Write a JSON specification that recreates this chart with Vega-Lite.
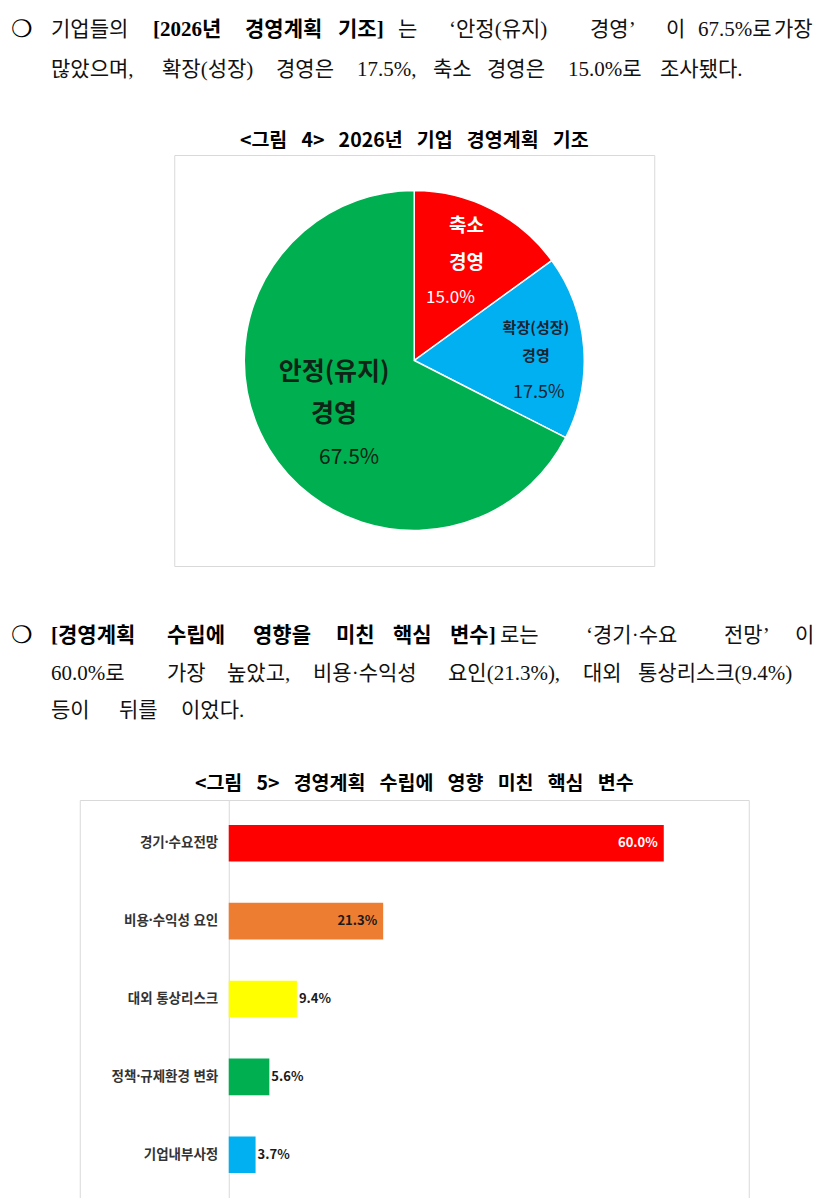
{
  "$schema": "https://vega.github.io/schema/vega-lite/v6.json",
  "padding": 0,
  "background": "white",
  "spacing": 0,
  "center": true,
  "resolve": {"scale": {"color": "independent"}},
  "config": {
    "view": {"stroke": null},
    "font": "Noto Sans CJK KR",
    "title": {"font": "Noto Sans CJK KR", "fontSize": 19.5, "fontWeight": "bold", "color": "#000000", "anchor": "middle"}
  },
  "vconcat": [
    {
      "width": 829,
      "height": 130,
      "data": {"values": [
        {"line": 1, "seg": 0, "kind": "bullet", "text": "❍"},
        {"line": 1, "seg": 1, "kind": "normal", "text": "기업들의"},
        {"line": 1, "seg": 2, "kind": "bold", "text": "[2026년"},
        {"line": 1, "seg": 3, "kind": "bold", "text": "경영계획"},
        {"line": 1, "seg": 4, "kind": "bold", "text": "기조]"},
        {"line": 1, "seg": 5, "kind": "normal", "text": "는"},
        {"line": 1, "seg": 6, "kind": "normal", "text": "‘안정(유지)"},
        {"line": 1, "seg": 7, "kind": "normal", "text": "경영’"},
        {"line": 1, "seg": 8, "kind": "normal", "text": "이"},
        {"line": 1, "seg": 9, "kind": "normal", "text": "67.5%로"},
        {"line": 1, "seg": 10, "kind": "normal", "text": "가장"},
        {"line": 2, "seg": 11, "kind": "normal", "text": "많았으며,"},
        {"line": 2, "seg": 12, "kind": "normal", "text": "확장(성장)"},
        {"line": 2, "seg": 13, "kind": "normal", "text": "경영은"},
        {"line": 2, "seg": 14, "kind": "normal", "text": "17.5%,"},
        {"line": 2, "seg": 15, "kind": "normal", "text": "축소"},
        {"line": 2, "seg": 16, "kind": "normal", "text": "경영은"},
        {"line": 2, "seg": 17, "kind": "normal", "text": "15.0%로"},
        {"line": 2, "seg": 18, "kind": "normal", "text": "조사됐다."}
      ]},
      "encoding": {
        "x": {"field": "seg", "type": "quantitative", "scale": {"domain": [0, 1, 2, 3, 4, 5, 6, 7, 8, 9, 10, 11, 12, 13, 14, 15, 16, 17, 18], "range": [11, 51, 153, 245, 338, 398, 449, 590, 666, 698, 774, 51, 162, 276, 357, 433, 487, 568, 660], "nice": false, "zero": false}, "axis": null},
        "y": {"field": "line", "type": "quantitative", "scale": {"domain": [1, 2], "range": [30, 70], "nice": false, "zero": false}, "axis": null},
        "text": {"field": "text", "type": "nominal"}
      },
      "layer": [
        {"transform": [{"filter": "datum.kind === 'bullet'"}], "mark": {"type": "text", "align": "left", "baseline": "middle", "font": "DejaVu Sans", "fontSize": 24, "color": "#000000"}},
        {"transform": [{"filter": "datum.kind === 'normal'"}], "mark": {"type": "text", "align": "left", "baseline": "middle", "font": "Liberation Serif, Noto Sans CJK KR", "fontSize": 21, "color": "#111111"}},
        {"transform": [{"filter": "datum.kind === 'bold'"}], "mark": {"type": "text", "align": "left", "baseline": "middle", "font": "Liberation Serif, Noto Sans CJK KR", "fontSize": 21, "fontWeight": "bold", "color": "#000000"}}
      ]
    },
    {
      "width": 480,
      "height": 411,
      "view": {"stroke": "#D9D9D9", "strokeWidth": 1},
      "title": {"text": "<그림\u2002 4>\u2002 2026년\u2002 기업\u2002 경영계획\u2002 기조", "offset": 3.5},
      "data": {"values": [
        {"k": "축소 경영", "v": 0.150, "o": 1},
        {"k": "확장(성장) 경영", "v": 0.175, "o": 2},
        {"k": "안정(유지) 경영", "v": 0.675, "o": 3}
      ]},
      "encoding": {
        "theta": {"field": "v", "type": "quantitative", "stack": true},
        "order": {"field": "o", "type": "quantitative"}
      },
      "layer": [
        {
          "mark": {"type": "arc", "outerRadius": 170, "stroke": "#FFFFFF", "strokeWidth": 1.5},
          "encoding": {"color": {"field": "k", "type": "nominal", "scale": {"domain": ["축소 경영", "확장(성장) 경영", "안정(유지) 경영"], "range": ["#FF0000", "#00B0F0", "#00B050"]}, "legend": null}}
        },
        {
          "mark": {"type": "text", "radius": 115, "dy": -32, "fontSize": 19, "fontWeight": "bold", "color": "#FFFFFF", "lineBreak": " ", "lineHeight": 37, "baseline": "middle"},
          "encoding": {"text": {"condition": {"test": "datum.k === '축소 경영'", "field": "k", "type": "nominal"}, "value": ""}}
        },
        {
          "mark": {"type": "text", "radius": 115, "dx": -16, "dy": 40, "fontSize": 17, "color": "#FFFFFF", "baseline": "middle"},
          "encoding": {"text": {"condition": {"test": "datum.k === '축소 경영'", "field": "v", "type": "quantitative", "format": ".1%"}, "value": ""}}
        },
        {
          "mark": {"type": "text", "radius": 122, "dy": -23, "fontSize": 15, "fontWeight": "bold", "color": "#1B2430", "lineBreak": " ", "lineHeight": 28, "baseline": "middle"},
          "encoding": {"text": {"condition": {"test": "datum.k === '확장(성장) 경영'", "field": "k", "type": "nominal"}, "value": ""}}
        },
        {
          "mark": {"type": "text", "radius": 122, "dx": 3, "dy": 42, "fontSize": 18, "color": "#1B2430", "baseline": "middle"},
          "encoding": {"text": {"condition": {"test": "datum.k === '확장(성장) 경영'", "field": "v", "type": "quantitative", "format": ".1%"}, "value": ""}}
        },
        {
          "mark": {"type": "text", "radius": 94, "dy": -38, "fontSize": 25, "fontWeight": "bold", "color": "#0E2416", "lineBreak": " ", "lineHeight": 42, "baseline": "middle"},
          "encoding": {"text": {"condition": {"test": "datum.k === '안정(유지) 경영'", "field": "k", "type": "nominal"}, "value": ""}}
        },
        {
          "mark": {"type": "text", "radius": 94, "dx": 15, "dy": 48, "fontSize": 21, "color": "#0E2416", "baseline": "middle"},
          "encoding": {"text": {"condition": {"test": "datum.k === '안정(유지) 경영'", "field": "v", "type": "quantitative", "format": ".1%"}, "value": ""}}
        }
      ]
    },
    {
      "width": 829,
      "height": 206,
      "data": {"values": [
        {"line": 1, "seg": 0, "kind": "bullet", "text": "❍"},
        {"line": 1, "seg": 1, "kind": "bold", "text": "[경영계획"},
        {"line": 1, "seg": 2, "kind": "bold", "text": "수립에"},
        {"line": 1, "seg": 3, "kind": "bold", "text": "영향을"},
        {"line": 1, "seg": 4, "kind": "bold", "text": "미친"},
        {"line": 1, "seg": 5, "kind": "bold", "text": "핵심"},
        {"line": 1, "seg": 6, "kind": "bold", "text": "변수]"},
        {"line": 1, "seg": 7, "kind": "normal", "text": "로는"},
        {"line": 1, "seg": 8, "kind": "normal", "text": "‘경기·수요"},
        {"line": 1, "seg": 9, "kind": "normal", "text": "전망’"},
        {"line": 1, "seg": 10, "kind": "normal", "text": "이"},
        {"line": 2, "seg": 11, "kind": "normal", "text": "60.0%로"},
        {"line": 2, "seg": 12, "kind": "normal", "text": "가장"},
        {"line": 2, "seg": 13, "kind": "normal", "text": "높았고,"},
        {"line": 2, "seg": 14, "kind": "normal", "text": "비용·수익성"},
        {"line": 2, "seg": 15, "kind": "normal", "text": "요인(21.3%),"},
        {"line": 2, "seg": 16, "kind": "normal", "text": "대외"},
        {"line": 2, "seg": 17, "kind": "normal", "text": "통상리스크(9.4%)"},
        {"line": 3, "seg": 18, "kind": "normal", "text": "등이"},
        {"line": 3, "seg": 19, "kind": "normal", "text": "뒤를"},
        {"line": 3, "seg": 20, "kind": "normal", "text": "이었다."}
      ]},
      "encoding": {
        "x": {"field": "seg", "type": "quantitative", "scale": {"domain": [0, 1, 2, 3, 4, 5, 6, 7, 8, 9, 10, 11, 12, 13, 14, 15, 16, 17, 18, 19, 20], "range": [11, 51, 167, 253, 336, 393, 450, 500, 586, 724, 795, 51, 167, 227, 313, 448, 583, 638, 51, 119, 181], "nice": false, "zero": false}, "axis": null},
        "y": {"field": "line", "type": "quantitative", "scale": {"domain": [1, 3], "range": [69, 144], "nice": false, "zero": false}, "axis": null},
        "text": {"field": "text", "type": "nominal"}
      },
      "layer": [
        {"transform": [{"filter": "datum.kind === 'bullet'"}], "mark": {"type": "text", "align": "left", "baseline": "middle", "font": "DejaVu Sans", "fontSize": 24, "color": "#000000"}},
        {"transform": [{"filter": "datum.kind === 'normal'"}], "mark": {"type": "text", "align": "left", "baseline": "middle", "font": "Liberation Serif, Noto Sans CJK KR", "fontSize": 21, "color": "#111111"}},
        {"transform": [{"filter": "datum.kind === 'bold'"}], "mark": {"type": "text", "align": "left", "baseline": "middle", "font": "Liberation Serif, Noto Sans CJK KR", "fontSize": 21, "fontWeight": "bold", "color": "#000000"}}
      ]
    },
    {
      "width": 669,
      "height": 398,
      "view": {"stroke": "#D9D9D9", "strokeWidth": 1},
      "title": {"text": "<그림\u2002 5>\u2002 경영계획\u2002 수립에\u2002 영향\u2002 미친\u2002 핵심\u2002 변수", "offset": 5.5},
      "data": {"values": [
        {"f": "경기·수요전망", "v": 0.600},
        {"f": "비용·수익성 요인", "v": 0.213},
        {"f": "대외 통상리스크", "v": 0.094},
        {"f": "정책·규제환경 변화", "v": 0.056},
        {"f": "기업내부사정", "v": 0.037}
      ]},
      "encoding": {
        "y": {
          "field": "f", "type": "nominal",
          "scale": {"domain": ["경기·수요전망", "비용·수익성 요인", "대외 통상리스크", "정책·규제환경 변화", "기업내부사정"], "paddingInner": 0.53, "paddingOuter": 0.32},
          "axis": {"title": null, "offset": -149, "ticks": false, "domainColor": "#D9D9D9", "labelFontSize": 13.5, "labelFontWeight": "bold", "labelColor": "#333333", "labelPadding": 11, "labelFont": "Noto Sans, Noto Sans CJK KR"}
        },
        "x": {"field": "v", "type": "quantitative", "scale": {"domain": [-0.2055, 0.7172], "nice": false, "zero": false}, "axis": null}
      },
      "layer": [
        {
          "mark": {"type": "bar"},
          "encoding": {"color": {"field": "f", "type": "nominal", "scale": {"domain": ["경기·수요전망", "비용·수익성 요인", "대외 통상리스크", "정책·규제환경 변화", "기업내부사정"], "range": ["#FF0000", "#ED7D31", "#FFFF00", "#00B050", "#00B0F0"]}, "legend": null}}
        },
        {
          "transform": [{"filter": "datum.v > 0.15"}],
          "mark": {"type": "text", "align": "right", "baseline": "middle", "dx": -6, "fontSize": 13, "fontWeight": "bold"},
          "encoding": {
            "text": {"field": "v", "type": "quantitative", "format": ".1%"},
            "color": {"condition": {"test": "datum.v > 0.5", "value": "#FFFFFF"}, "value": "#1A1A1A"}
          }
        },
        {
          "transform": [{"filter": "datum.v <= 0.15"}],
          "mark": {"type": "text", "align": "left", "baseline": "middle", "dx": 2, "fontSize": 13, "fontWeight": "bold", "color": "#1A1A1A"},
          "encoding": {"text": {"field": "v", "type": "quantitative", "format": ".1%"}}
        }
      ]
    }
  ]
}
